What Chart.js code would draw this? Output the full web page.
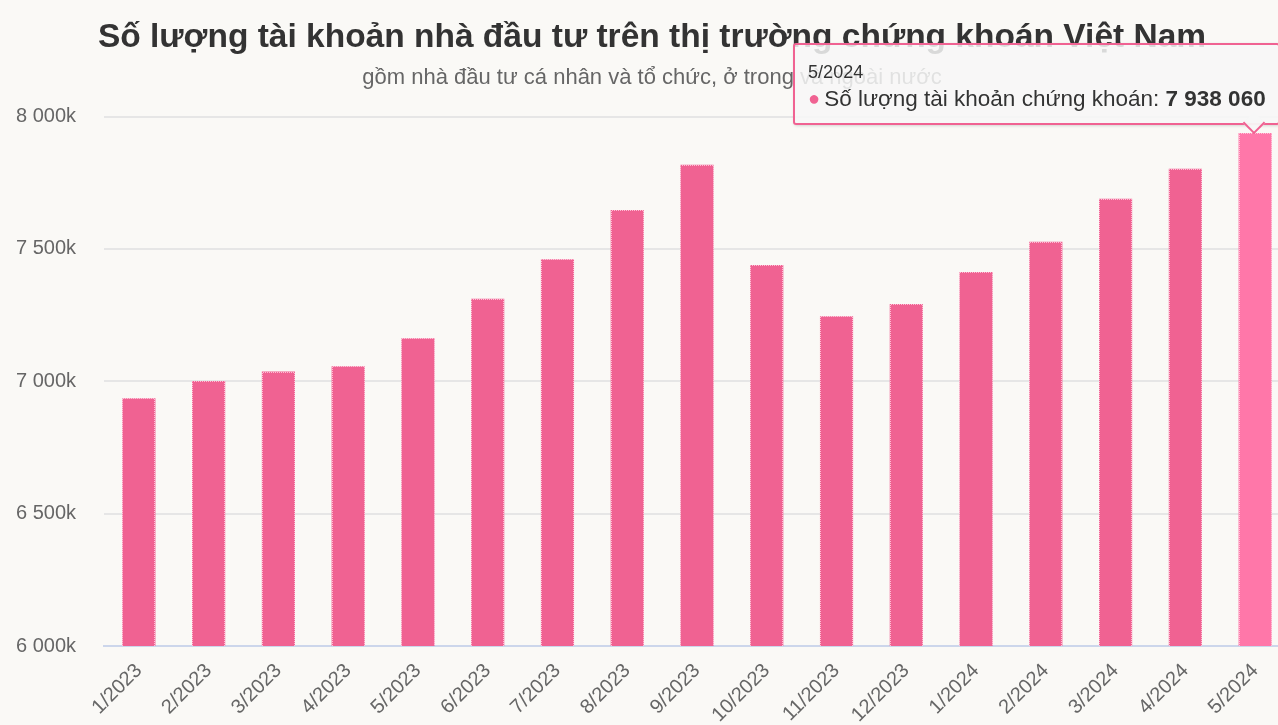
<!DOCTYPE html>
<html>
<head>
<meta charset="utf-8">
<script src="https://cdn.jsdelivr.net/npm/chart.js@4"></script>
<style>
  html,body{margin:0;padding:0;background:#faf9f6;overflow:hidden;}
  #wrap{position:relative;width:1290px;height:725px;}
  #tip{position:absolute;pointer-events:none;background:rgba(247,247,247,0.85);border:2px solid #f06292;border-radius:3px;
       font-family:"Liberation Sans",Arial,sans-serif;color:#333;padding:17px 12px 11px 13px;white-space:nowrap;box-shadow:1px 1px 3px rgba(0,0,0,0.15);}
  #tip .t{font-size:18px;margin-bottom:3px;}
  #tip .b{font-size:22.5px;}
  #tip .dot{color:#f06292;font-size:20px;margin-right:4px;position:relative;top:-1px;}
  #caret{position:absolute;width:14px;height:14px;background:rgba(247,247,247,0.95);border-right:2px solid #f06292;border-bottom:2px solid #f06292;transform:rotate(45deg);}
</style>
</head>
<body>
<div id="wrap"><canvas id="c"></canvas><div id="tip"></div><div id="caret"></div></div>
<script>
const categories = ["1/2023","2/2023","3/2023","4/2023","5/2023","6/2023","7/2023","8/2023","9/2023","10/2023","11/2023","12/2023","1/2024","2/2024","3/2024","4/2024","5/2024"];
const accounts = [6936000,7001000,7037000,7057000,7163000,7312000,7461000,7647000,7818000,7439000,7246000,7292000,7413000,7527000,7690000,7803000,7938060];
const yTicks = [6000000,6500000,7000000,7500000,8000000];
const seriesName = "Số lượng tài khoản chứng khoán";
const titleText = "Số lượng tài khoản nhà đầu tư trên thị trường chứng khoán Việt Nam";
const subtitleText = "gồm nhà đầu tư cá nhân và tổ chức, ở trong và ngoài nước";

const FONT = '"Liberation Sans", Arial, sans-serif';
function fmtSpace(n){return String(Math.round(n)).replace(/\B(?=(\d{3})+(?!\d))/g,' ');}

const dashBorder = {
  id:'dashBorder',
  afterDatasetsDraw(chart){
    const ctx = chart.ctx;
    const meta = chart.getDatasetMeta(0);
    const bottom = chart.chartArea.bottom;
    ctx.save();
    ctx.setLineDash([1,1]);
    ctx.lineWidth = 1;
    ctx.strokeStyle = 'rgba(255,200,220,0.9)';
    meta.data.forEach(el=>{
      const p = el.getProps(['x','y','base','width'], true);
      const l = Math.round(p.x - p.width/2)+0.5, r = Math.round(p.x + p.width/2)-0.5;
      const t = Math.round(p.y)+0.5, b = Math.min(Math.round(p.base), bottom);
      ctx.beginPath();
      ctx.moveTo(l,b);ctx.lineTo(l,t);ctx.lineTo(r,t);ctx.lineTo(r,b);
      ctx.stroke();
    });
    ctx.restore();
  }
};

function externalTip(context){
  const {chart, tooltip} = context;
  const tip = document.getElementById('tip');
  const caret = document.getElementById('caret');
  if(tooltip.opacity === 0){tip.style.display='none';caret.style.display='none';return;}
  const dp = tooltip.dataPoints[0];
  tip.innerHTML = '<div class="t">'+dp.label+'</div><div class="b"><span class="dot">●</span>'+seriesName+': <b>'+fmtSpace(dp.raw)+'</b></div>';
  tip.style.display='block';caret.style.display='block';
  const w = tip.offsetWidth, h = tip.offsetHeight;
  const cx = tooltip.caretX, cy = tooltip.caretY;
  tip.style.left = (cx + 25 - w) + 'px';
  tip.style.top = (cy - 8 - h) + 'px';
  caret.style.left = (cx - 9) + 'px';
  caret.style.top = (cy - 8 - 10) + 'px';
}

const chart = new Chart(document.getElementById('c'), {
  type:'bar',
  data:{labels:categories, datasets:[{
    label:seriesName, data:accounts,
    backgroundColor:'#f06292', hoverBackgroundColor:'#ff77a9',
    borderWidth:0, barPercentage:0.475, categoryPercentage:1
  }]},
  options:{
    responsive:true, maintainAspectRatio:false, animation:false,
    events:[],
    layout:{padding:{left:14,right:0,top:18,bottom:0}},
    plugins:{
      legend:{display:false},
      title:{display:true,text:titleText,color:'#333',font:{family:FONT,size:33.5,weight:'bold'},padding:{top:0,bottom:7}},
      subtitle:{display:true,text:subtitleText,color:'#666',font:{family:FONT,size:22},padding:{top:0,bottom:25}},
      tooltip:{enabled:false, external:externalTip}
    },
    scales:{
      x:{
        grid:{display:false, drawTicks:false},
        border:{display:true,color:'#ccd6eb',width:2},
        ticks:{color:'#666',font:{family:FONT,size:20},maxRotation:45,minRotation:45,autoSkip:false,padding:13},
        afterFit(scale){scale.paddingLeft=0;scale.paddingRight=0;scale.height=79;}
      },
      y:{
        min:6000000,max:8000000,
        afterBuildTicks(scale){scale.ticks = yTicks.map(v=>({value:v}));},
        grid:{color:'#e6e6e6',lineWidth:2,drawTicks:false},
        border:{display:false},
        ticks:{color:'#666',font:{family:FONT,size:20},padding:28,
          callback:v=>fmtSpace(v/1000)+'k'},
        afterFit(scale){scale.width=90;}
      }
    }
  },
  plugins:[dashBorder]
});
const act=[{datasetIndex:0,index:16}];
chart.setActiveElements(act);
const el = chart.getDatasetMeta(0).data[16];
chart.tooltip.setActiveElements(act,{x:el.x,y:el.y});
chart.update('none');
</script>
</body>
</html>
